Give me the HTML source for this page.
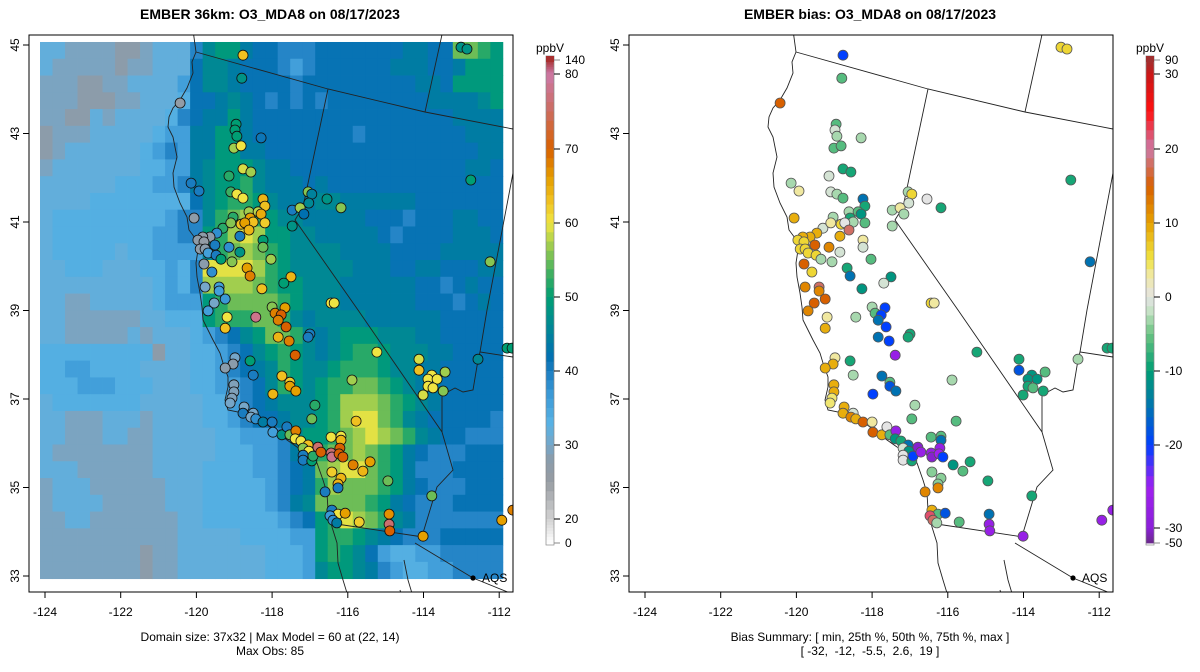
<!DOCTYPE html>
<html><head><meta charset="utf-8"><style>
html,body{margin:0;padding:0;background:#fff}
svg{display:block;font-family:"Liberation Sans",Arial,sans-serif}
</style></head><body>
<svg id="s" width="1200" height="672" viewBox="0 0 1200 672" xmlns="http://www.w3.org/2000/svg">
<defs>
<clipPath id="clipL"><rect x="29" y="35" width="484" height="557"/></clipPath>
<clipPath id="clipR"><rect x="629" y="35" width="484" height="557"/></clipPath>
</defs>
<text x="270" y="19" text-anchor="middle" font-weight="bold" font-size="14">EMBER 36km: O3_MDA8 on 08/17/2023</text>
<text x="870" y="19" text-anchor="middle" font-weight="bold" font-size="14">EMBER bias: O3_MDA8 on 08/17/2023</text>
<g id="gridL" clip-path="url(#clipL)"></g>
<g id="baseL" clip-path="url(#clipL)" fill="none" stroke="#222" stroke-width="1"></g>
<g id="baseR" clip-path="url(#clipR)" fill="none" stroke="#222" stroke-width="1"></g>
<g id="ptsL" clip-path="url(#clipL)"></g>
<g id="ptsR" clip-path="url(#clipR)"></g>
<g id="axes" font-size="12"></g>
<g id="cbars" font-size="12"></g>
<text x="270" y="641" text-anchor="middle" font-size="12">Domain size: 37x32 | Max Model = 60 at (22, 14)</text>
<text x="270" y="655" text-anchor="middle" font-size="12">Max Obs: 85</text>
<text x="870" y="641" text-anchor="middle" font-size="12">Bias Summary: [ min, 25th %, 50th %, 75th %, max ]</text>
<text x="870" y="655" text-anchor="middle" font-size="12" xml:space="preserve">[ -32,  -12,  -5.5,  2.6,  19 ]</text>
</svg>
<script>
// ---- data ----
const gridRows = [
"ccbbbbaabcccfijjhggfffggggggghhggllkj",
"cbbbbbabbcccgiihgggfefgggggghhhgghjjj",
"bbbaabbccccegiihggggfggggggggghhgjjjj",
"bbbaaabbcccdgghihgfgfgfgggggggghhhhij",
"bbaacbccccdfghhjhgggggggggggggggghhhh",
"abbbcccccdeehhjjhggggggggfgggggggghhh",
"abccccccdefehhjjhhggggggggggggggggghh",
"bcccccccddeehijjjihhgggggggggggggghhg",
"ccccccdddeefhijjkihhhghgggggggggggggg",
"ccccddddddddgijkkjihhhiihhhhhhggggggg",
"cdddddddddeffiklmkjiihhhhhgggfggghhgg",
"cddddddddeeffjkmnmjjiihhhhhgfgggghhhg",
"cdddddcddeeeeiklmlkjiiiihhhhgggghhhhh",
"ccdddcccddedfnnnnmkjiiiiihhhgghhggghh",
"cccccccccdedfmmmmlkjjiiihhhhhhggfghgg",
"ccbbcccccdeeejkllllkjiiihhhhhhgggfghg",
"ccbbbbbbccdddjkkkllkihiiiihhhhhhggggg",
"ccbbbbbcbcccdefgijllkihijjjiiihhggggg",
"dddddddddaccddefgijkjihijkkjiiihhgggg",
"ddeeddddccccddefghikjiijkkkjiihhggggg",
"dddeeedddcccddeefgikjijkkllkjihhggggg",
"cdddddddcccccddefghiiijkmmmlkjihggggg",
"ccbbbcccbccccddefgghiijkmnnlkihgggggf",
"ccbbbccbbcccccddeeefijjklmnmlkihggfff",
"cbbbbbbbbcccccdddeefhikllmlkjhgfffggg",
"cccbbbbbbccccddddeefghlmnnlkjhfffgggg",
"bcccbbbbbbcccdddddefghkmlllkjhgfffggg",
"bccccbbbbbcccdddddefhillllkjhgfffgggg",
"bbccbbbbbbbccddddddefgjknmlkihfffffff",
"bbbbbbbbbbbcccccddddeejkkjihgfffggggg",
"bbbbbbbbabbcccccccdddejkjigeddeefffff",
"bbbbbbbbabbcccccccdddeijjihfeddeeffff"
];
const levelCodes = ["a","b","c","d","e","f","g","h","i","j","k","l","m","n","o"];
const levelValues = [27.5,29.5,32,33.5,36,39,41.5,44,46,49,52,55,57,59.5,62];
const stationLon = [-118.77,-118.80,-120.43,-118.95,-118.98,-118.93,-118.29,-119.01,-118.82,-118.77,-118.56,-119.14,-120.14,-119.93,-119.09,-118.93,-118.77,-118.24,-118.19,-120.06,-119.03,-118.61,-118.37,-118.29,-118.58,-118.50,-118.19,-119.30,-119.09,-118.82,-118.72,-118.61,-119.46,-119.64,-119.83,-119.96,-119.80,-119.51,-119.14,-118.85,-119.90,-119.77,-119.69,-119.48,-119.35,-118.85,-119.06,-118.24,-118.24,-118.03,-119.80,-119.59,-118.66,-118.58,-119.77,-119.40,-119.40,-119.24,-119.53,-119.69,-119.19,-119.24,-118.43,-118.27,-118.00,-117.66,-117.92,-117.76,-117.84,-117.63,-117.50,-117.69,-117.47,-117.47,-117.26,-117.16,-117.05,-116.95,-117.03,-116.55,-116.18,-116.44,-116.36,-112.75,-112.24,-113.01,-112.85,-117.00,-117.84,-117.55,-117.05,-117.39,-118.98,-119.03,-119.24,-118.58,-118.50,-117.74,-117.53,-117.53,-117.37,-117.98,-119.01,-119.01,-119.06,-119.11,-115.23,-115.89,-116.87,-116.95,-115.78,-118.74,-118.77,-118.50,-118.56,-118.43,-118.24,-118.00,-117.98,-117.74,-117.61,-117.53,-117.37,-117.39,-117.24,-117.05,-117.18,-117.03,-117.18,-117.18,-116.95,-116.92,-116.79,-116.71,-116.44,-116.18,-116.18,-116.21,-116.44,-116.42,-116.23,-116.13,-115.86,-115.60,-115.41,-116.42,-116.18,-116.26,-116.26,-116.60,-114.94,-114.12,-114.12,-113.43,-113.78,-113.88,-113.64,-113.88,-113.75,-113.48,-114.01,-112.56,-111.79,-111.66,-113.78,-116.42,-116.26,-116.07,-116.47,-116.39,-116.29,-115.70,-114.91,-114.91,-114.89,-114.01,-111.93,-111.64];
const stationLat = [44.77,44.25,43.69,43.21,43.08,42.94,42.90,42.67,42.72,42.20,42.13,42.04,41.88,41.70,41.68,41.63,41.54,41.52,41.36,41.09,41.11,41.23,41.23,41.18,41.09,41.00,40.98,40.86,40.98,40.95,40.98,40.82,40.75,40.66,40.66,40.59,40.55,40.48,40.43,40.68,40.39,40.39,40.30,40.25,40.16,40.32,40.10,40.59,40.43,40.16,40.05,39.87,39.96,39.78,39.53,39.53,39.44,39.26,39.17,38.99,38.85,38.60,38.85,39.49,39.08,39.06,38.94,38.90,38.78,38.63,39.76,39.62,40.91,41.27,41.32,41.18,41.68,41.63,41.43,41.52,41.32,39.17,39.17,41.95,40.10,44.95,44.91,38.47,38.40,38.31,38.40,37.99,37.93,37.79,37.70,37.86,37.54,37.52,37.38,37.29,37.18,37.11,37.32,37.16,37.02,36.91,38.06,37.43,36.86,36.55,36.50,36.82,36.68,36.68,36.59,36.55,36.48,36.48,36.25,36.19,36.37,36.19,36.28,36.10,36.05,35.96,35.89,35.82,35.73,35.62,35.60,35.71,35.91,35.80,36.14,36.16,36.07,35.89,35.78,35.69,35.76,35.69,35.51,35.37,35.58,35.35,35.21,35.08,34.99,34.90,35.15,37.90,37.65,37.61,37.54,37.45,37.45,37.29,37.25,37.18,37.09,37.90,38.15,38.15,34.81,34.49,34.40,34.42,34.36,34.26,34.20,34.22,34.40,34.17,34.02,33.90,34.26,34.49];
const obsValues = [63,48,26,50,50,50,41,57,60,59,57,52,40,40,53,60,60,64,63,27,52,57,58,65,66,63,62,52,56,63,66,64,38,27,27,27,26,40,38,40,27,28,36,40,50,48,56,50,55,57,28,38,66,68,30,36,36,37,30,36,60,63,78,63,56,66,68,70,68,70,64,50,48,40,57,42,56,45,46,48,56,60,60,50,56,48,48,40,64,68,40,70,30,28,28,50,40,63,62,66,66,64,29,29,29,30,60,57,52,55,63,30,40,30,30,38,44,40,36,48,40,55,68,60,60,63,56,60,40,40,50,52,76,70,60,60,64,70,76,78,70,70,68,64,66,62,64,64,40,40,55,59,63,57,60,60,60,60,60,56,59,46,50,50,55,40,60,66,37,38,44,62,67,76,70,66,66,68];
const biasValues = [-20,-6,15,-6,-1,-3,-3,-6,-6,-9,-9,-1,-3,3,-1,-3,-6,-15,-9,9,-3,-3,-6,-11,-9,-3,-6,-1,3,6,0,18,9,9,9,6,6,15,12,9,6,6,6,6,-3,-1,-3,3,-1,-6,15,6,-9,-15,12,18,12,15,15,12,3,9,-3,-11,-3,-20,-6,-20,-15,-20,-11,-1,-3,-3,3,-3,-3,6,-1,0,-9,6,3,-9,-15,6,6,-9,-15,-20,-9,-27,3,9,9,-9,-3,-15,-6,-18,-15,-20,9,9,4,4,-9,-3,-3,-6,-6,9,9,-1,12,9,15,3,15,9,0,-6,-27,-11,-9,-15,-1,-11,0,0,-9,-20,-32,-27,-6,-6,-15,-27,-27,-32,-25,-20,-11,-6,-9,-4,-4,-4,12,12,-9,-9,-18,-6,-11,-11,-11,-9,-6,-9,-9,-3,-9,-9,-9,9,-6,-18,22,18,-3,-6,-15,-27,-27,-27,-27,-27];
const obsTickLabels = ["140","80","70","60","50","40","30","20","0"];
const obsTickValues = [140,80,70,60,50,40,30,20,0];
const biasTickLabels = ["90","30","20","10","0","-10","-20","-30","-50"];
const biasTickValues = [90,30,20,10,0,-10,-20,-30,-50];
const lonTicks = [-124,-122,-120,-118,-116,-114,-112];
const latTicks = [33,35,37,39,41,43,45];

// ---- scales ----
const NS="http://www.w3.org/2000/svg";
const xOf = lon => 45 + (lon + 124) * 37.85;
const yOf = lat => 45 + (45 - lat) * 44.25;
const gridLon0 = -124.132, gridDLon = 0.3305, gridLat0 = 45.068, gridDLat = 0.379;
function hex(h){return [parseInt(h.slice(1,3),16),parseInt(h.slice(3,5),16),parseInt(h.slice(5,7),16)];}
function ramp(stops){return v=>{ if(v<=stops[0][0])return stops[0][1]; for(let i=1;i<stops.length;i++){ if(v<=stops[i][0]){const a=stops[i-1],b=stops[i];const t=(v-a[0])/(b[0]-a[0]);const c1=hex(a[1]),c2=hex(b[1]);return "rgb("+c1.map((c,k)=>Math.round(c+(c2[k]-c)*t)).join(",")+")";}} return stops[stops.length-1][1];};}
const obsColor = ramp([[0,"#ffffff"],[20,"#d2d2d2"],[25,"#979ca2"],[28,"#8a9cab"],[30,"#76a6c8"],[33,"#58b2e4"],[37,"#3a98d6"],[40,"#1a7cc0"],[42,"#0070b0"],[45,"#00829c"],[48,"#009385"],[50,"#009e73"],[53,"#3cae62"],[56,"#86c552"],[58,"#bcd64a"],[60,"#f0e442"],[63,"#f0c020"],[66,"#e6a000"],[70,"#d86000"],[75,"#cc6c60"],[80,"#cc79a7"],[140,"#a83030"]]);
const biasColor = ramp([[-50,"#6a2a8a"],[-30,"#8a20d8"],[-25,"#a020f0"],[-20,"#0040ff"],[-15,"#0072b2"],[-10,"#009e73"],[-5,"#6cc482"],[-2,"#c4e2c4"],[0,"#e4e4e4"],[3,"#f0e8a0"],[5,"#f0e442"],[10,"#e6a000"],[15,"#d86000"],[20,"#cc79a7"],[25,"#ff1010"],[30,"#c81818"],[90,"#a03030"]]);
function el(tag,attrs,parent){const e=document.createElementNS(NS,tag);for(const k in attrs)e.setAttribute(k,attrs[k]);parent.appendChild(e);return e;}

// ---- model grid ----
const gL=document.getElementById("gridL");
gridRows.forEach((row,r)=>{ for(let c=0;c<37;c++){
  const v=levelValues[levelCodes.indexOf(row[c]||"g")];
  const x0=xOf(gridLon0+c*gridDLon), x1=xOf(gridLon0+(c+1)*gridDLon);
  const y0=yOf(gridLat0-r*gridDLat), y1=yOf(gridLat0-(r+1)*gridDLat);
  const cell=el("rect",{x:x0.toFixed(2),y:y0.toFixed(2),width:(x1-x0+0.4).toFixed(2),height:(y1-y0+0.4).toFixed(2),fill:obsColor(v)},gL);
  
  
}});

// ---- basemap (pixel polylines, left panel) ----
const coast="M193,30 L196,52 L192,62 L193,73 L187,88 L180,100 L173,108 L169,117 L168,127 L173,137 L177,157 L173,173 L174,187 L180,203 L187,217 L189,230 L195,238 L205,240 L215,243 L206,246 L198,250 L196,263 L197,277 L200,293 L202,307 L203,320 L208,330 L213,340 L220,353 L223,363 L228,377 L228,387 L225,400 L228,410 L243,413 L263,422 L277,432 L287,440 L297,447 L307,452 L317,463 L323,480 L327,493 L328,510 L332,527 L337,543 L338,563 L343,580 L347,593";
const states=["M196,52 L328,89 L425,112 L513,129","M425,112 L443,30","M328,89 L303,207 L295,220 L358,310 L442,432 L453,470 L437,487 L423,533","M330,523 L423,537","M415,543 L473,578 L515,595","M513,173 L487,310 L480,352 L513,357","M480,352 L478,360 L473,390 L463,392 L455,388 L442,395 L442,432","M404,560 L408,580 L414,600","M400,590 L404,605"];
["L","R"].forEach(side=>{
  const g=document.getElementById("base"+side), off=side==="L"?0:600;
  const cp=el("path",{d:coast,transform:"translate("+off+",0)","stroke-width":"0.9"},g);
  
  
  states.forEach(d=>{const sp=el("path",{d:d,transform:"translate("+off+",0)","stroke-width":"0.9"},g);
    
    });
  const dot=el("circle",{cx:473+off,cy:578,r:2.6,fill:"#000",stroke:"none"},g);
  
  
  const t=el("text",{x:482+off,y:582,"font-size":"12",fill:"#000",stroke:"none"},g); t.textContent="AQS";
  
  
});

// ---- stations ----
const pL=document.getElementById("ptsL"), pR=document.getElementById("ptsR");
stationLon.forEach((lon,i)=>{
  const cx=xOf(lon), cy=yOf(stationLat[i]);
  const a=el("circle",{cx:cx.toFixed(1),cy:cy.toFixed(1),r:5,fill:obsColor(obsValues[i]),stroke:"#111","stroke-width":"0.8"},pL);
  
  
  const b=el("circle",{cx:(cx+600).toFixed(1),cy:cy.toFixed(1),r:5,fill:biasColor(biasValues[i]),stroke:"#555","stroke-width":"0.8"},pR);
  
  
});

// ---- axes ----
const ax=document.getElementById("axes");
[0,600].forEach(off=>{
  const fr=el("rect",{x:29+off,y:35,width:484,height:557,fill:"none",stroke:"#000","stroke-width":"1"},ax);
  
  
  lonTicks.forEach(lon=>{const x=xOf(lon)+off;
    el("line",{x1:x,x2:x,y1:592,y2:598,stroke:"#000"},ax);
    const t=el("text",{x:x,y:616,"text-anchor":"middle"},ax); t.textContent=String(lon);
    
    });
  latTicks.forEach(lat=>{const y=yOf(lat);
    el("line",{x1:23+off,x2:29+off,y1:y,y2:y,stroke:"#000"},ax);
    const t=el("text",{x:0,y:0,"text-anchor":"middle",transform:"translate("+(19+off)+","+y+") rotate(-90)"},ax); t.textContent=String(lat);
    
    });
});

// ---- colorbars ----
const cb=document.getElementById("cbars");
const obsTickY=[60,74,149,223,297,371,445,519,543];
const biasTickY=[60,74,149,223,297,371,445,528,543];
function colorbar(x,vals,ys,labels,colorFn,name){
  const n=vals.length;
  for(let i=0;i<n-1;i++){
    const steps=8;
    for(let s=0;s<steps;s++){
      const y0=ys[i]+(ys[i+1]-ys[i])*s/steps, y1=ys[i]+(ys[i+1]-ys[i])*(s+1)/steps;
      const v=vals[i]+(vals[i+1]-vals[i])*(s+0.5)/steps;
      const r=el("rect",{x:x,y:y0.toFixed(2),width:8,height:(y1-y0+0.4).toFixed(2),fill:colorFn(v)},cb);
      
      
    }
  }
  el("rect",{x:x,y:56,width:8,height:489,fill:"none",stroke:"#888","stroke-width":"0.7"},cb);
  const top=el("rect",{x:x,y:56,width:8,height:6,fill:colorFn(vals[0]+20)},cb);
  
  
  labels.forEach((lab,i)=>{
    el("line",{x1:x+8,x2:x+14,y1:ys[i],y2:ys[i],stroke:(i===0||i===n-1)?"#888":"#000"},cb);
    const t=el("text",{x:x+19,y:ys[i]+4},cb); t.textContent=lab;
    
    
  });
  const u=el("text",{x:x+4,y:52,"text-anchor":"middle"},cb); u.textContent="ppbV";
  
  
}
colorbar(546,obsTickValues,obsTickY,obsTickLabels,obsColor,"obs-colorbar");
colorbar(1146,biasTickValues,biasTickY,biasTickLabels,biasColor,"bias-colorbar");
</script>
</body></html>
